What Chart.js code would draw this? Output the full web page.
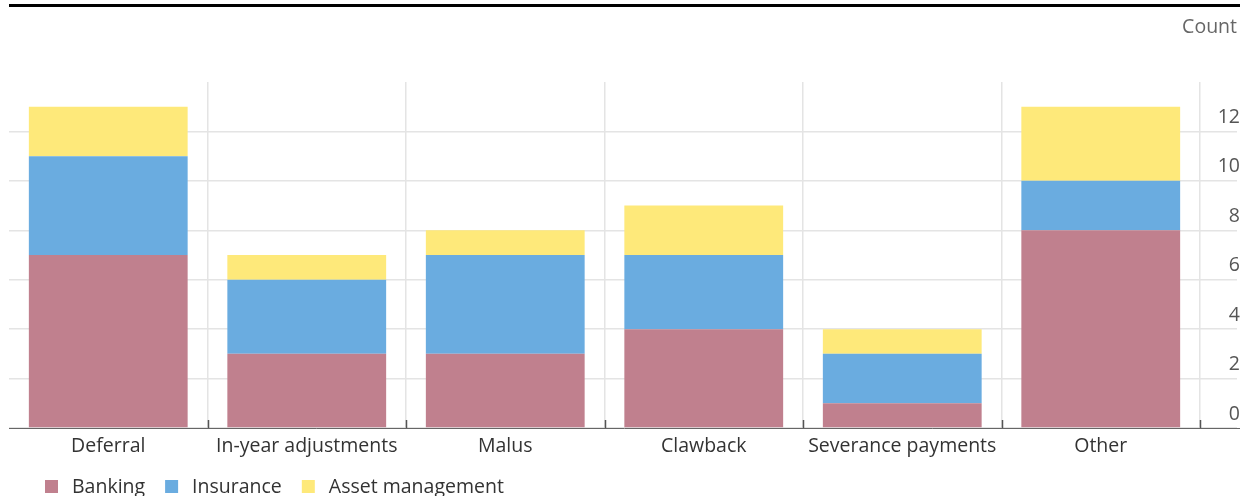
<!DOCTYPE html>
<html>
<head>
<meta charset="utf-8">
<script src="https://cdn.jsdelivr.net/npm/chart.js@4"></script>
<style>
html,body{margin:0;padding:0;background:#fff;}
#wrap{width:1240px;height:496px;position:relative;}
</style>
</head>
<body>
<div id="wrap"><canvas id="c" width="1240" height="496"></canvas></div>
<script>
const categories = ["Deferral", "In-year adjustments", "Malus", "Clawback", "Severance payments", "Other"];
const banking = [7, 3, 3, 4, 1, 8];
const insurance = [4, 3, 4, 3, 2, 2];
const assetManagement = [2, 1, 1, 2, 1, 3];
const seriesNames = ["Banking", "Insurance", "Asset management"];
const seriesColors = ["#c0808e", "#6aace0", "#fee97a"];
const yTicks = [0, 2, 4, 6, 8, 10, 12];
const yMax = 14;
const unitLabel = "Count";

const FONT = "'Open Sans', 'Noto Sans', sans-serif";
const FS = 19.5;
Chart.defaults.font.family = FONT;
Chart.defaults.font.size = FS;

const decor = {
  id: 'decor',
  afterDraw(chart) {
    const ctx = chart.ctx;
    const area = chart.chartArea;
    const xs = chart.scales.x;
    ctx.save();
    // top black rule
    ctx.fillStyle = '#000';
    ctx.fillRect(9, 4, 1231, 3);
    // unit label
    ctx.fillStyle = '#666';
    ctx.font = FS + 'px ' + FONT;
    ctx.textAlign = 'right';
    ctx.textBaseline = 'middle';
    ctx.fillText(unitLabel, 1237, 27);
    // baseline
    ctx.strokeStyle = '#666';
    ctx.lineWidth = 1;
    ctx.beginPath();
    ctx.moveTo(area.left, area.bottom + 0.5);
    ctx.lineTo(1240, area.bottom + 0.5);
    ctx.stroke();
    // small dark tick marks at category boundaries
    ctx.strokeStyle = '#555';
    ctx.lineWidth = 1.5;
    for (let i = 1; i <= categories.length; i++) {
      const x = Math.round(xs.getPixelForValue(i - 0.5)) + 0.5;
      ctx.beginPath();
      ctx.moveTo(x, area.bottom - 8);
      ctx.lineTo(x, area.bottom);
      ctx.stroke();
    }
    // legend
    let x = 45;
    const y = 487;
    ctx.textAlign = 'left';
    ctx.font = FS + 'px ' + FONT;
    chart.data.datasets.forEach(ds => {
      ctx.fillStyle = ds.backgroundColor;
      ctx.fillRect(x, y - 7, 13, 13);
      x += 27;
      ctx.fillStyle = '#333';
      ctx.fillText(ds.label, x, y);
      x += ctx.measureText(ds.label).width + 20;
    });
    ctx.restore();
  }
};

new Chart(document.getElementById('c'), {
  type: 'bar',
  data: {
    labels: categories,
    datasets: [
      { label: seriesNames[0], data: banking, backgroundColor: seriesColors[0] },
      { label: seriesNames[1], data: insurance, backgroundColor: seriesColors[1] },
      { label: seriesNames[2], data: assetManagement, backgroundColor: seriesColors[2] }
    ]
  },
  options: {
    responsive: false,
    animation: false,
    devicePixelRatio: 1,
    layout: { padding: { left: 9, right: 0, top: 82, bottom: 0 } },
    datasets: { bar: { barPercentage: 0.8, categoryPercentage: 1, borderWidth: 0 } },
    plugins: { legend: { display: false }, tooltip: { enabled: false }, title: { display: false } },
    scales: {
      x: {
        stacked: true,
        offset: true,
        grid: {
          offset: true,
          drawTicks: false,
          color: (c) => c.index === 0 ? 'rgba(0,0,0,0)' : '#e4e4e4',
          lineWidth: 1.5
        },
        border: { display: false },
        ticks: { color: '#333', padding: 7, font: { size: FS } },
        afterFit: (s) => { s.height = 68; }
      },
      y: {
        stacked: true,
        position: 'right',
        min: 0,
        max: yMax,
        afterBuildTicks: (s) => { s.ticks = yTicks.map(v => ({ value: v })); },
        grid: {
          color: '#e4e4e4',
          lineWidth: 1.5,
          drawTicks: true,
          tickLength: 37
        },
        border: { display: false },
        ticks: { color: '#555', padding: -25, crossAlign: 'far', labelOffset: -14, font: { size: FS } },
        afterFit: (s) => { s.width = 40; }
      }
    }
  },
  plugins: [decor]
});
</script>
</body>
</html>
